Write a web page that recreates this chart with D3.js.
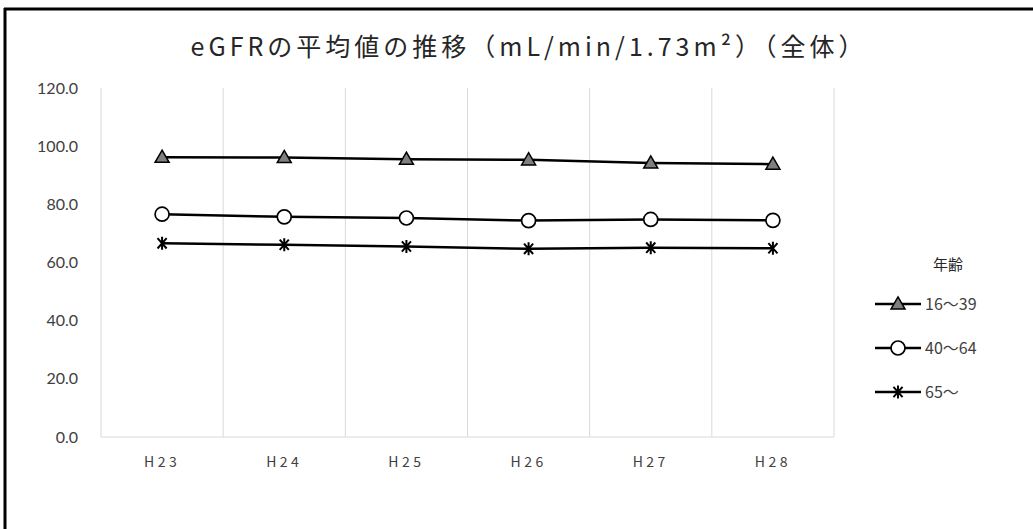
<!DOCTYPE html>
<html><head><meta charset="utf-8">
<script src="https://cdn.jsdelivr.net/npm/d3@7"></script>
<style>
html,body{margin:0;padding:0;background:#fff;}
svg{display:block;}
</style></head>
<body>
<svg id="chart" width="1033" height="529"></svg>
<script>
const titleText = "eGFRの平均値の推移（mL/min/1.73m²）（全体）";
const categories = ["H23","H24","H25","H26","H27","H28"];
const yTicks = [0,20,40,60,80,100,120];
const legendTitle = "年齢";
const seriesNames = ["16～39","40～64","65～"];
const seriesMarkers = ["triangle","circle","star"];
const values16_39 = [96.2, 96.1, 95.5, 95.3, 94.2, 93.8];
const values40_64 = [76.6, 75.7, 75.3, 74.4, 74.8, 74.5];
const values65 = [66.6, 66.1, 65.5, 64.7, 65.1, 64.9];
const seriesValues = [values16_39, values40_64, values65];

const svg = d3.select("#chart");
const W = 1033, H = 529;
const m = {left:101, right:834, top:88, bottom:437};

svg.append("rect").attr("width",W).attr("height",H).attr("fill","#fff");
svg.append("line").attr("x1",4).attr("x2",W).attr("y1",9).attr("y2",9).attr("stroke","#000").attr("stroke-width",3);
svg.append("line").attr("x1",5).attr("x2",5).attr("y1",8).attr("y2",H).attr("stroke","#000").attr("stroke-width",3);

const x = d3.scaleBand().domain(categories).range([m.left,m.right]).padding(0);
const y = d3.scaleLinear().domain([0,120]).range([m.bottom,m.top]);

const bounds = categories.map(c=>x(c)).concat([x(categories[categories.length-1])+x.bandwidth()]);
svg.append("g").selectAll("line").data(bounds).join("line")
  .attr("x1",d=>d).attr("x2",d=>d).attr("y1",m.top).attr("y2",m.bottom)
  .attr("stroke","#d9d9d9").attr("stroke-width",1);
svg.append("line").attr("x1",m.left).attr("x2",m.right).attr("y1",m.bottom).attr("y2",m.bottom)
  .attr("stroke","#d9d9d9").attr("stroke-width",1);

const yAxis = d3.axisLeft(y).tickValues(yTicks).tickFormat(d3.format(".1f")).tickSize(0).tickPadding(23);
const gy = svg.append("g").attr("transform",`translate(${m.left},0)`).call(yAxis);
gy.select(".domain").remove();
gy.selectAll("text").attr("font-family","Lato, 'Liberation Sans', sans-serif").attr("font-size",16).attr("fill","#404040");

const xAxis = d3.axisBottom(x).tickSize(0).tickPadding(20);
const gx = svg.append("g").attr("transform",`translate(0,${m.bottom})`).call(xAxis);
gx.select(".domain").remove();
gx.selectAll("text").attr("font-family","'Noto Sans CJK JP', sans-serif").attr("font-size",14).attr("fill","#404040").attr("letter-spacing","3.5px");

svg.append("text").attr("x",529).attr("y",56).attr("text-anchor","middle")
  .attr("font-family","'Noto Sans CJK JP', sans-serif").attr("font-size",25).attr("letter-spacing","4px")
  .attr("fill","#262626").text(titleText);

const cx = c => x(c)+x.bandwidth()/2;
const line = d3.line().x((d,i)=>cx(categories[i])).y(d=>y(d));

function drawMarker(g, type, px, py){
  if(type==="triangle"){
    g.append("path").attr("d",d3.symbol().type(d3.symbolTriangle).size(85)())
      .attr("transform",`translate(${px},${py+1})`).attr("fill","#7f7f7f").attr("stroke","#000").attr("stroke-width",1.5);
  } else if(type==="circle"){
    g.append("circle").attr("cx",px).attr("cy",py).attr("r",7).attr("fill","#fff").attr("stroke","#000").attr("stroke-width",1.7);
  } else {
    const s=6.5;
    g.append("path").attr("d",`M${px-s*0.7},${py-s*0.8}L${px+s*0.7},${py+s*0.8}M${px-s*0.7},${py+s*0.8}L${px+s*0.7},${py-s*0.8}M${px},${py-s}V${py+s}`)
      .attr("stroke","#000").attr("stroke-width",2).attr("fill","none");
  }
}

seriesValues.forEach((vals,si)=>{
  const g = svg.append("g");
  g.append("path").datum(vals).attr("d",line).attr("fill","none").attr("stroke","#000").attr("stroke-width",2.5);
  vals.forEach((v,i)=>drawMarker(g, seriesMarkers[si], cx(categories[i]), y(v)));
});

svg.append("text").attr("x",948).attr("y",270).attr("text-anchor","middle")
  .attr("font-family","'Noto Sans CJK JP', sans-serif").attr("font-size",15).attr("fill","#262626").text(legendTitle);
const legY = [304,348,392];
seriesNames.forEach((n,i)=>{
  const g = svg.append("g");
  g.append("line").attr("x1",875).attr("x2",921).attr("y1",legY[i]).attr("y2",legY[i]).attr("stroke","#000").attr("stroke-width",2.5);
  drawMarker(g, seriesMarkers[i], 898, legY[i]);
  g.append("text").attr("x",925).attr("y",legY[i]+6).attr("font-family","'Noto Sans CJK JP', sans-serif")
    .attr("font-size",16).attr("fill","#404040").text(n);
});
</script>
</body></html>
